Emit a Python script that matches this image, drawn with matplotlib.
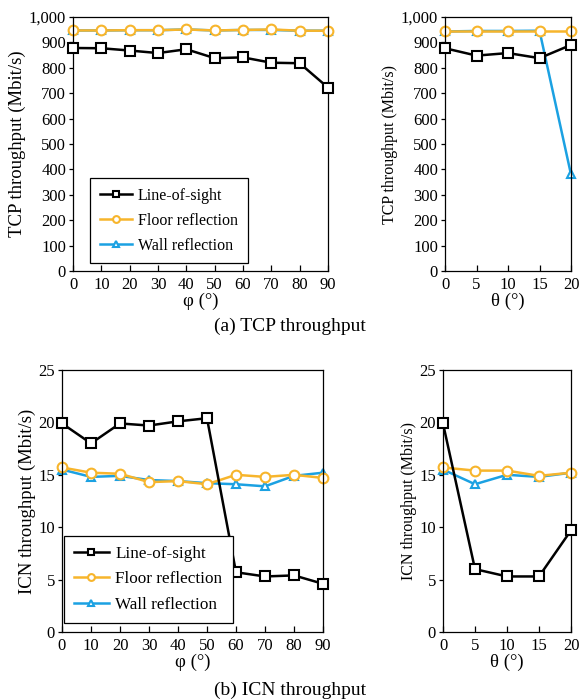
import numpy as np
import matplotlib
matplotlib.use("agg")
import matplotlib.pyplot as plt
from matplotlib.ticker import FuncFormatter

plt.rcParams["font.family"] = ["Liberation Serif", "DejaVu Serif"]

phi = [0, 10, 20, 30, 40, 50, 60, 70, 80, 90]
theta = [0, 5, 10, 15, 20]
labels = ["Line-of-sight", "Floor reflection", "Wall reflection"]

# TCP throughput (Mbit/s)
tcp_phi_los = [878, 877, 868, 858, 873, 838, 841, 820, 818, 722]
tcp_phi_floor = [947, 947, 948, 948, 951, 947, 949, 951, 946, 946]
tcp_phi_wall = [947, 947, 948, 948, 951, 947, 949, 949, 946, 946]
tcp_theta_los = [877, 848, 858, 838, 890]
tcp_theta_floor = [946, 946, 946, 946, 946]
tcp_theta_wall = [943, 945, 945, 946, 380]

# ICN throughput (Mbit/s)
icn_phi_los = [19.9, 18.0, 19.9, 19.7, 20.1, 20.4, 5.7, 5.3, 5.4, 4.6]
icn_phi_floor = [15.7, 15.2, 15.1, 14.3, 14.4, 14.1, 15.0, 14.8, 15.0, 14.7]
icn_phi_wall = [15.5, 14.8, 14.9, 14.5, 14.4, 14.2, 14.1, 13.9, 14.9, 15.2]
icn_theta_los = [19.9, 6.0, 5.3, 5.3, 9.7]
icn_theta_floor = [15.7, 15.4, 15.4, 14.9, 15.2]
icn_theta_wall = [15.5, 14.1, 15.0, 14.8, 15.2]

colors = ["black", "#F7B52C", "#1BA1E2"]
markers = ["s", "o", "^"]
msizes = [7, 7, 5.5]

W, H = 580, 700
fig = plt.figure(figsize=(5.8, 7.0), dpi=100)


def axes_px(l, t, r, b):
    return fig.add_axes([l / W, 1 - b / H, (r - l) / W, (b - t) / H])


def draw(ax, x, series, xlabel, ylabel, ylim, yticks, ylab_size, fmt=None,
         legend=None, leg_size=12):
    lines = []
    for i, y in enumerate(series):
        ln, = ax.plot(x, y, color=colors[i], marker=markers[i], ms=msizes[i],
                      mfc="white", mew=1.5, lw=1.8, clip_on=False, zorder=3 - i * 0.5)
        lines.append(ln)
    ax.set_xlim(x[0], x[-1])
    ax.set_xticks(x)
    ax.set_ylim(*ylim)
    ax.set_yticks(yticks)
    if fmt:
        ax.yaxis.set_major_formatter(FuncFormatter(fmt))
    ax.tick_params(labelsize=12, length=4, width=0.9)
    ax.tick_params(axis="x", direction="in", pad=4)
    ax.tick_params(axis="y", direction="out", length=3, pad=2)
    ax.set_xlabel(xlabel, fontsize=13.5, labelpad=0)
    ax.set_ylabel(ylabel, fontsize=ylab_size, labelpad=2)
    for s in ax.spines.values():
        s.set_linewidth(0.9)
    if legend:
        leg = ax.legend(lines, labels, loc="lower left", bbox_to_anchor=legend,
                        fontsize=leg_size, fancybox=False, edgecolor="black",
                        framealpha=1, handlelength=2.0, handletextpad=0.4,
                        markerscale=0.7, borderpad=0.6, labelspacing=0.55,
                        borderaxespad=0)
        leg.get_frame().set_linewidth(0.9)
        leg.set_zorder(10)


thousands = lambda v, p: f"{int(v):,}"

ax1 = axes_px(73, 17, 328, 271)
draw(ax1, phi, [tcp_phi_los, tcp_phi_floor, tcp_phi_wall], "\u03c6 (\u00b0)",
     "TCP throughput (Mbit/s)", (0, 1000), np.arange(0, 1001, 100), 13.5,
     thousands, legend=(0.067, 0.031), leg_size=11.5)
ax2 = axes_px(445, 17, 571, 271)
draw(ax2, theta, [tcp_theta_los, tcp_theta_floor, tcp_theta_wall], "\u03b8 (\u00b0)",
     "TCP throughput (Mbit/s)", (0, 1000), np.arange(0, 1001, 100), 11.5, thousands)

ax3 = axes_px(62, 370, 323, 632)
draw(ax3, phi, [icn_phi_los, icn_phi_floor, icn_phi_wall], "\u03c6 (\u00b0)",
     "ICN throughput (Mbit/s)", (0, 25), np.arange(0, 26, 5), 13.5,
     legend=(0.008, 0.034), leg_size=12.3)
ax4 = axes_px(443, 370, 571, 632)
draw(ax4, theta, [icn_theta_los, icn_theta_floor, icn_theta_wall], "\u03b8 (\u00b0)",
     "ICN throughput (Mbit/s)", (0, 25), np.arange(0, 26, 5), 11.5)

fig.text(290 / W, 1 - 326 / H, "(a) TCP throughput", fontsize=14, ha="center", va="center")
fig.text(290 / W, 1 - 690 / H, "(b) ICN throughput", fontsize=14, ha="center", va="center")

fig.savefig("out.png", dpi=100)
